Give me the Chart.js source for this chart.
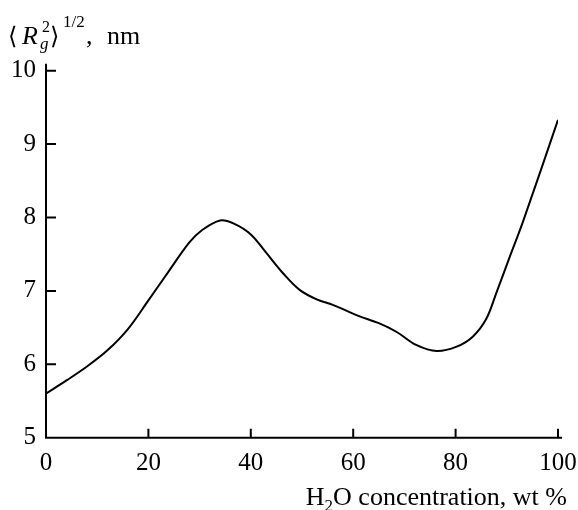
<!DOCTYPE html>
<html>
<head>
<meta charset="utf-8">
<script src="https://cdn.jsdelivr.net/npm/chart.js@4"></script>
<style>
html,body{margin:0;padding:0;background:#fff;}
#wrap{width:578px;height:510px;position:relative;}
</style>
</head>
<body>
<div id="wrap"><canvas id="c" width="578" height="510"></canvas></div>
<script>
// Data
const waterConc = [0, 4, 8, 12, 16, 20, 24, 28, 30.5, 34, 36.6, 40, 43, 46.3, 49.6, 53, 56, 61, 65, 68.5, 72.4, 76.3, 80.2, 83.4, 86, 88, 90.5, 93.2, 100];
const rgSize   = [5.60, 5.78, 5.97, 6.19, 6.48, 6.87, 7.27, 7.66, 7.83, 7.96, 7.92, 7.77, 7.52, 7.24, 7.01, 6.88, 6.81, 6.66, 6.56, 6.44, 6.26, 6.18, 6.24, 6.38, 6.62, 6.98, 7.45, 7.95, 9.33];
const xTicks = [0, 20, 40, 60, 80, 100];
const yTicks = [5, 6, 7, 8, 9, 10];
const xTitle = ["H", "2", "O concentration, wt %"];
const yTitleUnit = ", nm";

const SERIF = '"Liberation Serif", "Times New Roman", serif';

const axesPlugin = {
  id: 'axesPlugin',
  afterDraw(chart) {
    const ctx = chart.ctx;
    const xs = chart.scales.x, ys = chart.scales.y;
    const x0 = xs.getPixelForValue(0), x1 = xs.getPixelForValue(100);
    const y0 = ys.getPixelForValue(5), y1 = ys.getPixelForValue(10);
    ctx.save();
    ctx.strokeStyle = '#000';
    ctx.lineWidth = 2;
    ctx.lineCap = 'butt';
    ctx.beginPath();
    ctx.moveTo(x0, y1 - 7);
    ctx.lineTo(x0, y0);
    ctx.lineTo(x1 + 4, y0);
    ctx.stroke();
    // inward ticks
    ctx.beginPath();
    yTicks.forEach(v => {
      if (v === 5) return;
      const p = ys.getPixelForValue(v);
      ctx.moveTo(x0, p); ctx.lineTo(x0 + 10, p);
    });
    xTicks.forEach(v => {
      if (v === 0) return;
      const p = xs.getPixelForValue(v);
      ctx.moveTo(p, y0); ctx.lineTo(p, y0 - 9);
    });
    ctx.stroke();

    // x title
    ctx.fillStyle = '#000';
    ctx.textBaseline = 'alphabetic';
    ctx.textAlign = 'left';
    const parts = [[xTitle[0], 26, 0], [xTitle[1], 17, 6], [xTitle[2], 26, 0]];
    let total = 0;
    parts.forEach(p => { ctx.font = p[1] + 'px ' + SERIF; total += ctx.measureText(p[0]).width; });
    let cx = 567 - total;
    parts.forEach(p => {
      ctx.font = p[1] + 'px ' + SERIF;
      ctx.fillText(p[0], cx, 505 + p[2]);
      cx += ctx.measureText(p[0]).width;
    });

    // y title  <R_g^2>^{1/2}, nm
    ctx.font = '24px "DejaVu Serif", serif';
    ctx.fillText('⟨', 8, 44);
    ctx.font = 'italic 26px ' + SERIF;
    ctx.fillText('R', 22, 44);
    ctx.font = '16px ' + SERIF;
    ctx.fillText('2', 42, 32);
    ctx.font = 'italic 17px ' + SERIF;
    ctx.fillText('g', 40, 49);
    ctx.font = '24px "DejaVu Serif", serif';
    ctx.fillText('⟩', 50, 44);
    ctx.font = '17px ' + SERIF;
    ctx.fillText('1/2', 63, 27);
    ctx.font = '26px ' + SERIF;
    ctx.fillText(yTitleUnit.charAt(0), 86, 44);
    ctx.fillText(yTitleUnit.slice(2), 107, 44);
    ctx.restore();
  }
};

new Chart(document.getElementById('c'), {
  type: 'line',
  data: {
    datasets: [{
      data: waterConc.map((x, i) => ({x: x, y: rgSize[i]})),
      borderColor: '#000',
      borderWidth: 2,
      pointRadius: 0,
      fill: false,
      tension: 0.35
    }]
  },
  options: {
    responsive: false,
    animation: false,
    devicePixelRatio: 1,
    layout: { padding: { left: 0, top: 70.7, right: 20, bottom: 0 } },
    plugins: { legend: { display: false }, tooltip: { enabled: false } },
    scales: {
      x: {
        type: 'linear', min: 0, max: 100,
        afterFit(s) { s.height = 72.3; s.paddingRight = 0; s.paddingLeft = 0; },
        afterBuildTicks(s) { s.ticks = xTicks.map(v => ({value: v})); },
        grid: { display: false, drawTicks: false },
        border: { display: false },
        ticks: { color: '#000', font: { family: SERIF, size: 25 }, padding: 11, maxRotation: 0, autoSkip: false }
      },
      y: {
        type: 'linear', min: 5, max: 10,
        afterFit(s) { s.width = 46; s.paddingTop = 0; s.paddingBottom = 0; },
        afterBuildTicks(s) { s.ticks = yTicks.map(v => ({value: v})); },
        grid: { display: false, drawTicks: false },
        border: { display: false },
        ticks: { color: '#000', font: { family: SERIF, size: 25 }, padding: 10 }
      }
    }
  },
  plugins: [axesPlugin]
});
</script>
</body>
</html>
